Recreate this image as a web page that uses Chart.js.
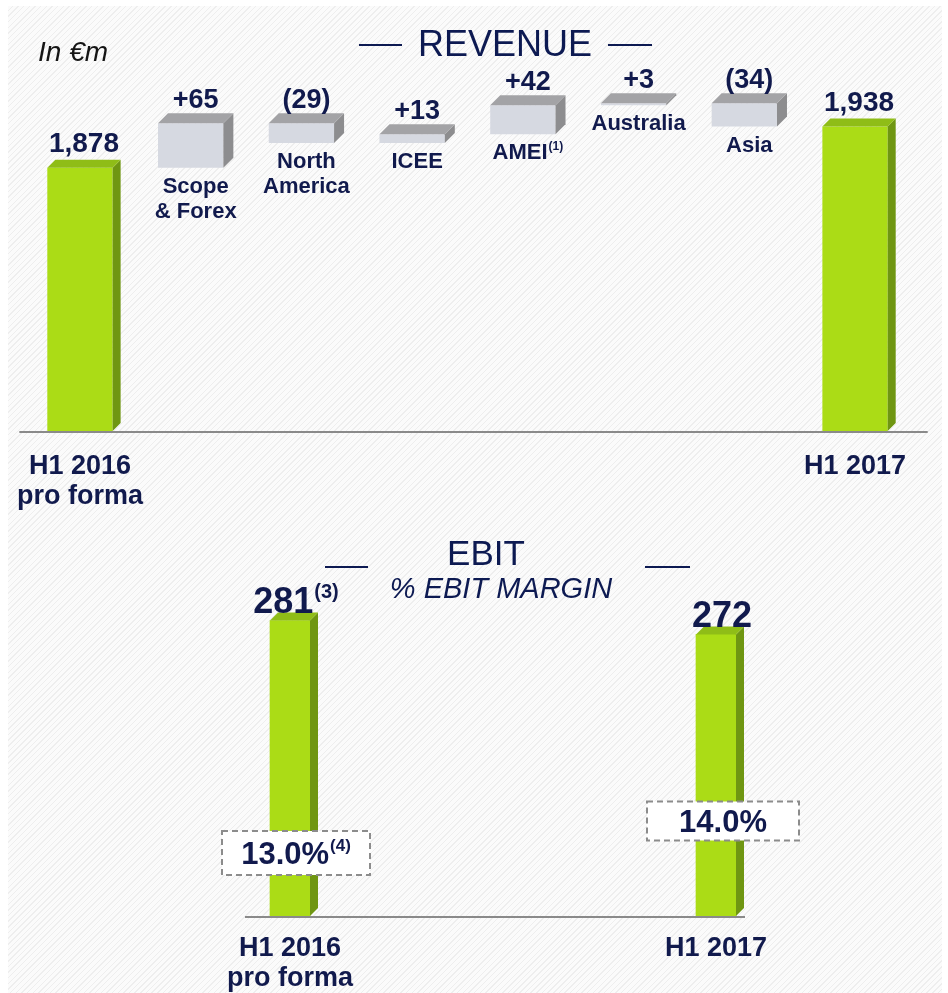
<!DOCTYPE html>
<html>
<head>
<meta charset="utf-8">
<script src="https://cdn.jsdelivr.net/npm/chart.js@4/dist/chart.umd.min.js"></script>
<style>
html, body { margin: 0; padding: 0; background: #fff; }
body { width: 948px; height: 993px; position: relative; overflow: hidden; font-family: "Liberation Sans", Arial, sans-serif; }
#fundo { position: absolute; left: 8px; top: 6px; right: 6px; bottom: 0;
	background: repeating-linear-gradient(135deg, #fbfbfb 0 3px, #eeeeee 3px 4px); }
.texto { position: absolute; color: #0d1a52; white-space: nowrap; }
.traco { position: absolute; height: 2px; background: #0d1a52; }
canvas { position: absolute; left: 0; }
</style>
</head>
<body>
<div id="fundo"></div>
<canvas id="graficoReceita" width="948" height="540" style="top:0"></canvas>
<canvas id="graficoEbit" width="948" height="505" style="top:505px"></canvas>

<div class="texto" style="left:38px;top:36px;font-size:28px;font-style:italic;color:#151515">In €m</div>
<div class="traco" style="left:359px;top:44px;width:43px"></div>
<div class="texto" style="left:505px;top:23px;font-size:36px;transform:translateX(-50%)">REVENUE</div>
<div class="traco" style="left:608px;top:44px;width:44px"></div>

<div class="traco" style="left:325px;top:566px;width:43px"></div>
<div class="texto" style="left:486px;top:533px;font-size:35px;transform:translateX(-50%)">EBIT</div>
<div class="traco" style="left:645px;top:566px;width:45px"></div>
<div class="texto" style="left:501px;top:572px;font-size:29px;font-style:italic;transform:translateX(-50%)">% EBIT MARGIN</div>

<script>
// dados da receita (ponte H1 2016 -> H1 2017)
const categoriasReceita = ['H1 2016 pro forma', 'Scope & Forex', 'North America', 'ICEE', 'AMEI', 'Australia', 'Asia', 'H1 2017']
const rotulosEixoReceita = [['H1 2016', 'pro forma'], '', '', '', '', '', '', 'H1 2017']
const nomesPassos = [null, ['Scope', '& Forex'], ['North', 'America'], ['ICEE'], ['AMEI'], ['Australia'], ['Asia'], null]
const notasPassos = [null, null, null, null, '(1)', null, null, null]
const receitaInicial = 1878
const variacoesReceita = [65, -29, 13, 42, 3, -34]
const receitaFinal = 1938

// dados do EBIT
const categoriasEbit = ['H1 2016 pro forma', 'H1 2017']
const rotulosEixoEbit = [['H1 2016', 'pro forma'], 'H1 2017']
const valoresEbit = [281, 272]
const notasEbit = ['(3)', null]
const margensEbit = [13.0, 14.0]
const notasMargem = ['(4)', null]

const COR_TEXTO = '#111a4d'
const FONTE = '"Liberation Sans", Arial, sans-serif'
const EIXO_RECEITA = { min: 1494, max: 2006 }
const EIXO_EBIT = { min: 90, max: 291 }

// monta as barras flutuantes da ponte
let acumulado = receitaInicial
const barrasReceita = [[EIXO_RECEITA.min, receitaInicial]]
const rotulosValor = [receitaInicial.toLocaleString('en-US')]
variacoesReceita.forEach((v) => {
	barrasReceita.push([acumulado, acumulado + v])
	rotulosValor.push(v >= 0 ? '+' + v : '(' + Math.abs(v) + ')')
	acumulado += v
})
barrasReceita.push([EIXO_RECEITA.min, receitaFinal])
rotulosValor.push(receitaFinal.toLocaleString('en-US'))
const ehTotal = barrasReceita.map((b, i) => i == 0 || i == barrasReceita.length - 1)

const verde = { frente: '#abdc16', lado: '#6f9612', topo: '#8fbd17' }
const cinza = { frente: '#d6d9e1', lado: '#8d8d8f', topo: '#a3a3a6' }

function textoComNota(ctx, texto, nota, x, y, tam) {
	ctx.font = `bold ${tam}px ${FONTE}`
	const w1 = ctx.measureText(texto).width
	let w2 = 0
	const tamNota = Math.round(tam * 0.55)
	if (nota) {
		ctx.font = `bold ${tamNota}px ${FONTE}`
		w2 = ctx.measureText(nota).width + 1
	}
	const inicio = x - (w1 + w2) / 2
	ctx.textAlign = 'left'
	ctx.font = `bold ${tam}px ${FONTE}`
	ctx.fillText(texto, inicio, y)
	if (nota) {
		ctx.font = `bold ${tamNota}px ${FONTE}`
		ctx.fillText(nota, inicio + w1 + 1, y - tam * 0.42)
	}
}

// desenha lado e topo das barras para o efeito 3D
const barras3D = {
	id: 'barras3D',
	afterDatasetsDraw(chart, args, opts) {
		const ctx = chart.ctx
		const meta = chart.getDatasetMeta(0)
		meta.data.forEach((el, i) => {
			const cores = opts.cores(i)
			const d = opts.profundidade(i)
			const esq = el.x - el.width / 2
			const dir = el.x + el.width / 2
			const topo = Math.min(el.y, el.base)
			const base = Math.max(el.y, el.base)
			ctx.save()
			ctx.fillStyle = cores.lado
			ctx.beginPath()
			ctx.moveTo(dir, topo)
			ctx.lineTo(dir + d, topo - d)
			ctx.lineTo(dir + d, base - d)
			ctx.lineTo(dir, base)
			ctx.closePath()
			ctx.fill()
			ctx.fillStyle = cores.topo
			ctx.beginPath()
			ctx.moveTo(esq, topo)
			ctx.lineTo(esq + d, topo - d)
			ctx.lineTo(dir + d, topo - d)
			ctx.lineTo(dir, topo)
			ctx.closePath()
			ctx.fill()
			ctx.restore()
		})
		// linha da base
		const primeira = meta.data[0]
		const ultima = meta.data[meta.data.length - 1]
		const yBase = chart.scales.y.getPixelForValue(chart.scales.y.min)
		ctx.save()
		ctx.strokeStyle = '#8a8a8a'
		ctx.lineWidth = 2
		ctx.beginPath()
		ctx.moveTo(primeira.x - primeira.width / 2 - opts.linhaEsq, yBase + 1)
		ctx.lineTo(ultima.x + ultima.width / 2 + opts.linhaDir, yBase + 1)
		ctx.stroke()
		ctx.restore()
	}
}

const rotulosReceita = {
	id: 'rotulosReceita',
	afterDraw(chart) {
		const ctx = chart.ctx
		ctx.save()
		ctx.fillStyle = COR_TEXTO
		ctx.textBaseline = 'alphabetic'
		chart.getDatasetMeta(0).data.forEach((el, i) => {
			const topo = Math.min(el.y, el.base)
			const base = Math.max(el.y, el.base)
			const d = ehTotal[i] ? 8 : 10
			const cx = el.x + d / 2
			textoComNota(ctx, rotulosValor[i], null, cx, topo - d - (ehTotal[i] ? 8 : 5), ehTotal[i] ? 28 : 27)
			if (nomesPassos[i]) {
				nomesPassos[i].forEach((linha, k) => {
					textoComNota(ctx, linha, k == nomesPassos[i].length - 1 ? notasPassos[i] : null, cx, base + 25 + k * 25, 22)
				})
			}
		})
		ctx.restore()
	}
}

const rotulosEbit = {
	id: 'rotulosEbit',
	afterDraw(chart, args, opts) {
		const ctx = chart.ctx
		const yBase = chart.scales.y.getPixelForValue(chart.scales.y.min)
		ctx.save()
		chart.getDatasetMeta(0).data.forEach((el, i) => {
			const cx = el.x + 4
			ctx.fillStyle = COR_TEXTO
			textoComNota(ctx, String(valoresEbit[i]), notasEbit[i], cx + 2, el.y - 7, 36)
			// caixa tracejada da margem
			const caixa = opts.caixas[i]
			const cy = yBase - caixa.acima
			ctx.fillStyle = '#ffffff'
			ctx.fillRect(cx + caixa.dx - caixa.w / 2, cy - caixa.h / 2, caixa.w, caixa.h)
			ctx.setLineDash([6, 4])
			ctx.strokeStyle = '#8c8c8c'
			ctx.lineWidth = 2
			ctx.strokeRect(cx + caixa.dx - caixa.w / 2, cy - caixa.h / 2, caixa.w, caixa.h)
			ctx.setLineDash([])
			ctx.fillStyle = COR_TEXTO
			textoComNota(ctx, margensEbit[i].toFixed(1) + '%', notasMargem[i], cx + caixa.dx, cy + 11, 31)
		})
		ctx.restore()
	}
}

const fonteEixo = { family: FONTE, size: 27, weight: 'bold', lineHeight: 1.1 }

new Chart(document.getElementById('graficoReceita'), {
	type: 'bar',
	data: {
		labels: categoriasReceita,
		datasets: [{
			data: barrasReceita,
			backgroundColor: ehTotal.map((t) => t ? verde.frente : cinza.frente),
			borderWidth: 0,
			barPercentage: 0.59,
			categoryPercentage: 1
		}]
	},
	options: {
		responsive: false,
		animation: false,
		layout: { padding: { left: 24.6, right: 37.6, top: 80, bottom: 15.6 } },
		plugins: {
			legend: { display: false },
			tooltip: { enabled: false },
			barras3D: {
				cores: (i) => ehTotal[i] ? verde : cinza,
				profundidade: (i) => ehTotal[i] ? 8 : 10,
				linhaEsq: 28,
				linhaDir: 40
			}
		},
		scales: {
			x: {
				grid: { display: false },
				border: { display: false },
				ticks: {
					color: COR_TEXTO, font: fonteEixo, padding: 13,
					autoSkip: false, maxRotation: 0, minRotation: 0,
					callback: (v, i) => rotulosEixoReceita[i]
				}
			},
			y: { display: false, min: EIXO_RECEITA.min, max: EIXO_RECEITA.max }
		}
	},
	plugins: [barras3D, rotulosReceita]
})

new Chart(document.getElementById('graficoEbit'), {
	type: 'bar',
	data: {
		labels: categoriasEbit,
		datasets: [{
			data: valoresEbit.map((v) => [EIXO_EBIT.min, v]),
			backgroundColor: verde.frente,
			borderWidth: 0,
			barThickness: 40
		}]
	},
	options: {
		responsive: false,
		animation: false,
		layout: { padding: { left: 77, right: 19, top: 100, bottom: 6.6 } },
		plugins: {
			legend: { display: false },
			tooltip: { enabled: false },
			barras3D: {
				cores: () => verde,
				profundidade: () => 8,
				linhaEsq: 25,
				linhaDir: 9
			},
			rotulosEbit: {
				caixas: [
					{ dx: 2, acima: 63, w: 148, h: 44 },
					{ dx: 3, acima: 95, w: 152, h: 39 }
				]
			}
		},
		scales: {
			x: {
				grid: { display: false },
				border: { display: false },
				ticks: {
					color: COR_TEXTO, font: fonteEixo, padding: 10,
					autoSkip: false, maxRotation: 0, minRotation: 0,
					callback: (v, i) => rotulosEixoEbit[i]
				}
			},
			y: { display: false, min: EIXO_EBIT.min, max: EIXO_EBIT.max }
		}
	},
	plugins: [barras3D, rotulosEbit]
})
</script>
</body>
</html>
